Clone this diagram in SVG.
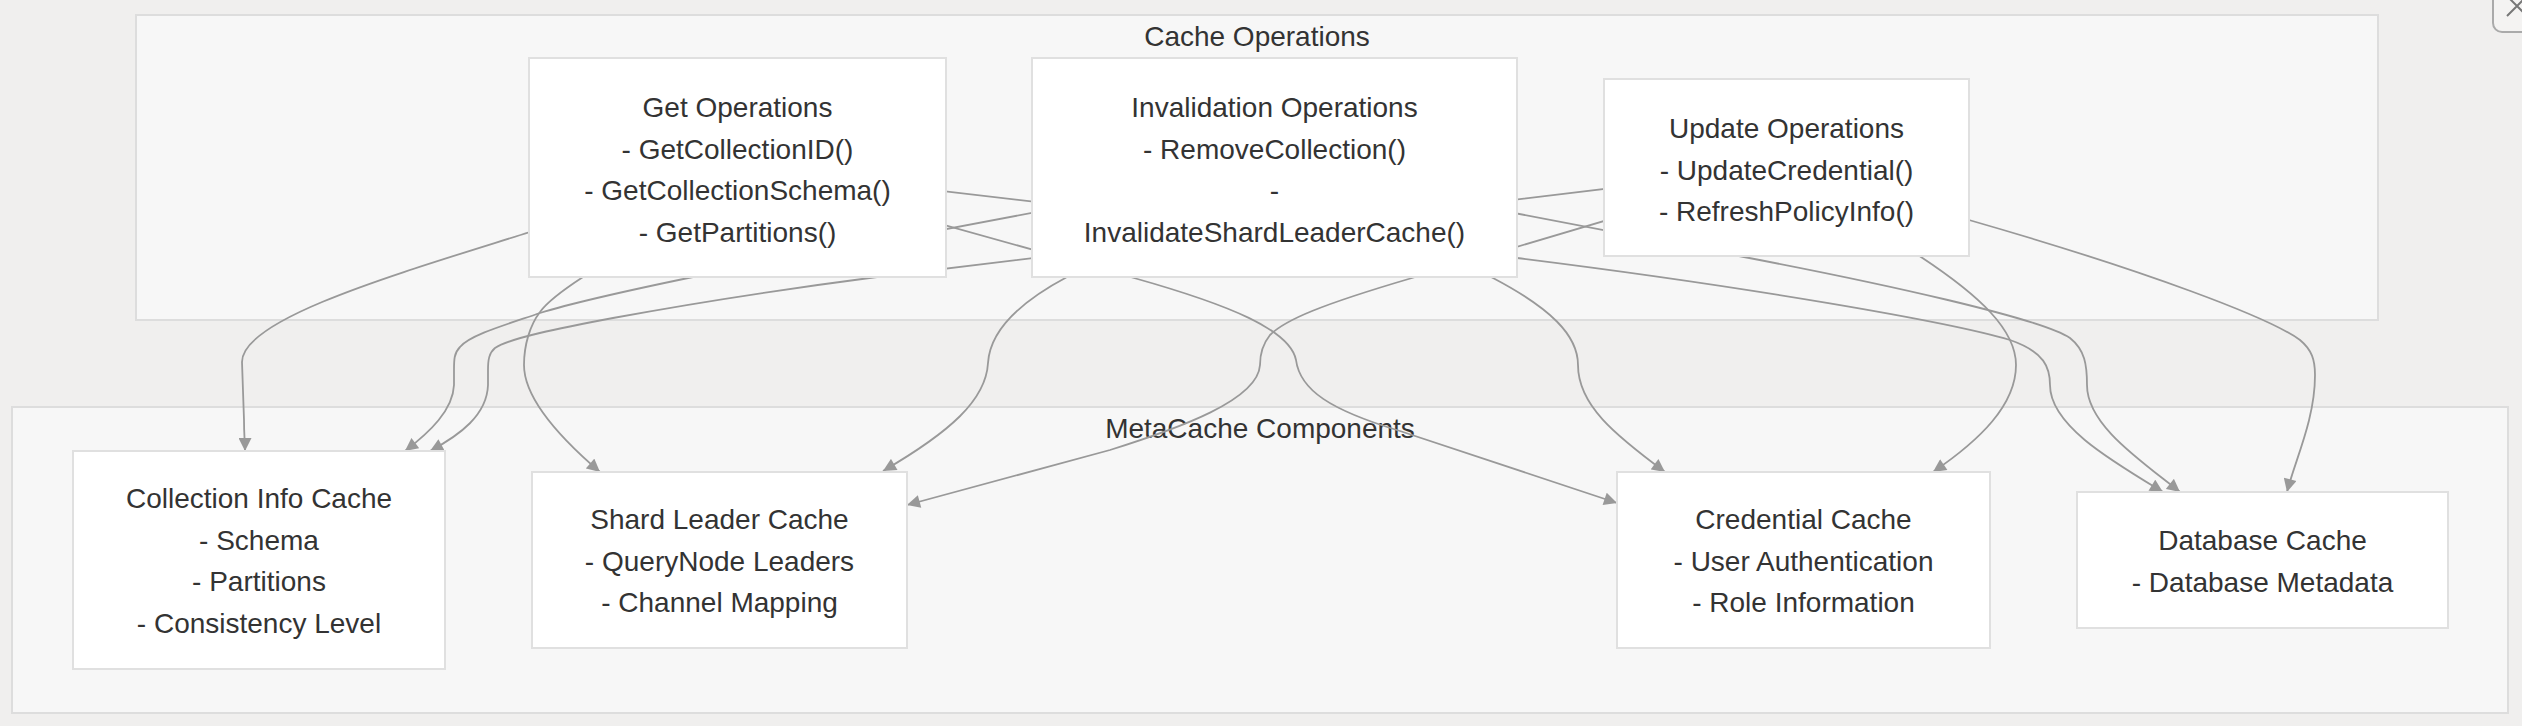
<svg xmlns="http://www.w3.org/2000/svg" width="2522" height="726" viewBox="0 0 2522 726">
<style>
.bg{fill:#f0efee}
.cluster rect{fill:#f7f7f7;stroke:#dddddd;stroke-width:2}
.node rect{fill:#ffffff;stroke:#e0e0e0;stroke-width:2}
text{font-family:"Liberation Sans",Arial,Helvetica,sans-serif;font-size:28px;fill:#333333;text-anchor:middle}
.edge{fill:none;stroke:#999999;stroke-width:1.8;marker-end:url(#arrow)}
</style>
<defs>
<marker id="arrow" viewBox="0 0 10 10" refX="10" refY="5" markerUnits="userSpaceOnUse" markerWidth="14" markerHeight="13" orient="auto">
<path d="M0,0 L10,5 L0,10 z" fill="#999999"/>
</marker>
</defs>
<rect class="bg" x="0" y="0" width="2522" height="726"/>

<g id="cluster-cache-operations" class="cluster">
<rect x="136" y="15" width="2242" height="305"/>
<text x="1257" y="46">Cache Operations</text>
</g>
<g id="cluster-metacache-components" class="cluster">
<rect x="12" y="407" width="2496" height="306"/>
<text x="1260" y="438">MetaCache Components</text>
</g>

<g id="edges">
<path class="edge" d="M737,167 L530,232 C400,273 242,318 242,362 L244,420 C244,435 245,443 245,451"/>
<path class="edge" d="M1274,167 L693,277 C640,288 575,302 540,313 C505,325 470,335 460,347 C454,353 454,360 454,370 L454,385 C453,410 430,432 405,451"/>
<path class="edge" d="M1786,167 L877,277 C800,287 700,302 613,318 C560,328 510,338 495,348 C489,353 488,360 488,370 L488,385 C487,415 460,435 430,451"/>
<path class="edge" d="M737,167 L583,277 C560,292 545,305 540,312 C530,325 524,345 524,365 C524,390 545,425 600,472"/>
<path class="edge" d="M1274,167 L1067,277 C1020,302 990,330 988,363 C986,400 950,432 883,471"/>
<path class="edge" d="M1786,167 L1412,278 C1320,305 1285,320 1270,335 C1262,345 1260,355 1260,365 C1258,400 1180,428 1110,450 L907,505"/>
<path class="edge" d="M737,167 L1134,278 C1230,305 1290,330 1296,360 C1300,390 1330,410 1400,431 L1617,503"/>
<path class="edge" d="M1274,167 L1493,278 C1550,308 1578,335 1578,365 C1578,405 1615,435 1665,472"/>
<path class="edge" d="M1786,167 L1921,257 C1980,296 2016,330 2016,365 C2016,405 1980,440 1933,472"/>
<path class="edge" d="M737,167 L1517,258 C1750,287 1950,322 2010,340 C2045,352 2050,368 2050,385 C2050,425 2110,460 2163,492"/>
<path class="edge" d="M1274,167 L1744,257 C1880,283 2040,318 2070,338 C2085,350 2087,365 2087,385 C2087,425 2140,460 2180,492"/>
<path class="edge" d="M1786,167 L1969,220 C2150,272 2270,318 2300,340 C2312,350 2315,360 2315,375 C2315,420 2295,460 2287,492"/>
</g>

<g id="node-get-operations" class="node">
<rect x="529" y="58" width="417" height="219"/>
<text x="737.5" y="117">Get Operations</text>
<text x="737.5" y="158.5">- GetCollectionID()</text>
<text x="737.5" y="200">- GetCollectionSchema()</text>
<text x="737.5" y="241.5">- GetPartitions()</text>
</g>
<g id="node-invalidation-operations" class="node">
<rect x="1032" y="58" width="485" height="219"/>
<text x="1274.5" y="117">Invalidation Operations</text>
<text x="1274.5" y="158.5">- RemoveCollection()</text>
<text x="1274.5" y="200">-</text>
<text x="1274.5" y="241.5">InvalidateShardLeaderCache()</text>
</g>
<g id="node-update-operations" class="node">
<rect x="1604" y="79" width="365" height="177"/>
<text x="1786.5" y="138">Update Operations</text>
<text x="1786.5" y="179.5">- UpdateCredential()</text>
<text x="1786.5" y="221">- RefreshPolicyInfo()</text>
</g>
<g id="node-collection-info-cache" class="node">
<rect x="73" y="451" width="372" height="218"/>
<text x="259" y="508">Collection Info Cache</text>
<text x="259" y="549.5">- Schema</text>
<text x="259" y="591">- Partitions</text>
<text x="259" y="632.5">- Consistency Level</text>
</g>
<g id="node-shard-leader-cache" class="node">
<rect x="532" y="472" width="375" height="176"/>
<text x="719.5" y="529">Shard Leader Cache</text>
<text x="719.5" y="570.5">- QueryNode Leaders</text>
<text x="719.5" y="612">- Channel Mapping</text>
</g>
<g id="node-credential-cache" class="node">
<rect x="1617" y="472" width="373" height="176"/>
<text x="1803.5" y="529">Credential Cache</text>
<text x="1803.5" y="570.5">- User Authentication</text>
<text x="1803.5" y="612">- Role Information</text>
</g>
<g id="node-database-cache" class="node">
<rect x="2077" y="492" width="371" height="136"/>
<text x="2262.5" y="550">Database Cache</text>
<text x="2262.5" y="591.5">- Database Metadata</text>
</g>

<g id="close-button">
<rect x="2493" y="-12" width="50" height="44" rx="9" fill="#f4f3f2" stroke="#aaaaaa" stroke-width="2"/>
<path d="M2507,16 L2527,-4 M2507,-4 L2527,16" stroke="#777777" stroke-width="2" fill="none"/>
</g>
</svg>
